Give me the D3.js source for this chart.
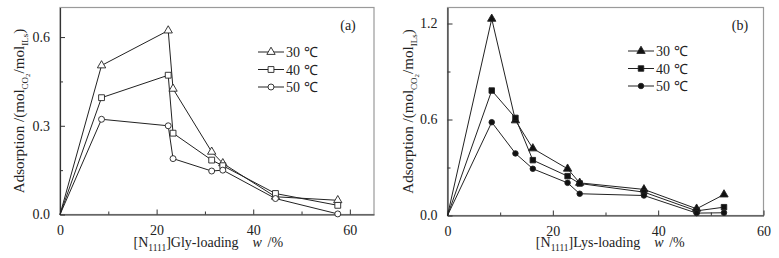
<!DOCTYPE html>
<html>
<head>
<meta charset="utf-8">
<script src="https://cdn.jsdelivr.net/npm/d3@7/dist/d3.min.js"></script>
<style>
  body { margin: 0; background: #fff; }
</style>
</head>
<body>
<div id="chart-area"></div>
<script>
// panel (a) : [N1111]Gly loading
var glyX = [0, 8.6, 22.4, 23.4, 31.4, 33.7, 44.6, 57.5];
var gly30 = [0, 0.504, 0.622, 0.425, 0.212, 0.173, 0.060, 0.048];
var gly40 = [0, 0.395, 0.471, 0.275, 0.184, 0.165, 0.071, 0.031];
var gly50 = [0, 0.322, 0.300, 0.189, 0.147, 0.150, 0.054, 0.002];

// panel (b) : [N1111]Lys loading
var lysX = [0, 8.4, 12.9, 16.2, 22.8, 25.1, 37.3, 47.3, 52.5];
var lys30 = [0, 1.229, 0.594, 0.419, 0.292, 0.204, 0.163, 0.042, 0.131];
var lys40 = [0, 0.781, 0.610, 0.346, 0.246, 0.200, 0.146, 0.029, 0.052];
var lys50 = [0, 0.583, 0.388, 0.292, 0.204, 0.136, 0.125, 0.015, 0.017];

var seriesNames = ["30 \u2103", "40 \u2103", "50 \u2103"];
var glyXTicks = [0, 20, 40, 60];
var glyYTicks = [0, 0.3, 0.6];
var lysXTicks = [0, 20, 40, 60];
var lysYTicks = [0, 0.6, 1.2];

var FONT = "Liberation Serif";

var svg = d3.select("#chart-area")
  .append("svg")
  .attr("width", 779)
  .attr("height", 258);

function drawPanel(opt) {
  var x = d3.scaleLinear().domain(opt.xDomain).range([opt.left, opt.right]);
  var y = d3.scaleLinear().domain(opt.yDomain).range([opt.bottom, opt.top]);
  var g = svg.append("g");

  // frame
  g.append("rect")
    .attr("x", opt.left).attr("y", opt.top)
    .attr("width", opt.right - opt.left).attr("height", opt.bottom - opt.top)
    .attr("fill", "none").attr("stroke", "#9a9a9a").attr("stroke-width", 1.2);

  // axes with inward ticks
  g.append("g")
    .attr("transform", "translate(0," + opt.bottom + ")")
    .call(d3.axisTop(x).tickValues(opt.xMinor).tickSize(3).tickFormat(""))
    .call(function(a) { a.select(".domain").remove(); });
  g.append("g")
    .attr("transform", "translate(0," + opt.bottom + ")")
    .call(d3.axisBottom(x).tickValues(opt.xTicks).tickSizeInner(-5).tickSizeOuter(0).tickPadding(11).tickFormat(d3.format("d")));

  g.append("g")
    .attr("transform", "translate(" + opt.left + ",0)")
    .call(d3.axisRight(y).tickValues(opt.yMinor).tickSize(3).tickFormat(""))
    .call(function(a) { a.select(".domain").remove(); });
  g.append("g")
    .attr("transform", "translate(" + opt.left + ",0)")
    .call(d3.axisLeft(y).tickValues(opt.yTicks).tickSizeInner(-5).tickSizeOuter(0).tickPadding(10).tickFormat(d3.format(".1f")));

  g.selectAll(".tick text").attr("font-family", FONT).attr("font-size", 14).attr("fill", "#222");
  g.selectAll(".domain").attr("stroke", "#333").attr("stroke-width", 1.2);
  g.selectAll(".tick line").attr("stroke", "#333");

  // lines
  var line = d3.line()
    .x(function(d) { return x(d[0]); })
    .y(function(d) { return y(d[1]); });

  opt.series.forEach(function(s, i) {
    var pts = opt.xs.map(function(v, k) { return [v, s[k]]; });
    g.append("path")
      .datum(pts)
      .attr("fill", "none")
      .attr("stroke", "#222")
      .attr("stroke-width", 1)
      .attr("d", line);
  });

  opt.series.forEach(function(s, i) {
    var pts = opt.xs.map(function(v, k) { return [v, s[k]]; }).slice(1);
    g.selectAll(".m" + i)
      .data(pts)
      .enter()
      .append("path")
      .attr("transform", function(d) { return "translate(" + x(d[0]) + "," + y(d[1]) + ")"; })
      .attr("d", d3.symbol().type(opt.symbols[i]).size(opt.symbolSize[i]))
      .attr("fill", opt.filled ? "#111" : "#fff")
      .attr("stroke", "#222")
      .attr("stroke-width", 0.9);
  });

  // legend
  var legend = g.append("g");
  seriesNames.forEach(function(n, i) {
    var ly = opt.legY + i * 17.5;
    legend.append("line")
      .attr("x1", opt.legX).attr("x2", opt.legX + 26)
      .attr("y1", ly).attr("y2", ly)
      .attr("stroke", "#222");
    legend.append("path")
      .attr("transform", "translate(" + (opt.legX + 13) + "," + ly + ")")
      .attr("d", d3.symbol().type(opt.symbols[i]).size(opt.symbolSize[i]))
      .attr("fill", opt.filled ? "#111" : "#fff")
      .attr("stroke", "#222")
      .attr("stroke-width", 0.9);
    legend.append("text")
      .attr("x", opt.legX + 28)
      .attr("y", ly + 5)
      .attr("font-family", FONT)
      .attr("font-size", 14)
      .attr("fill", "#222")
      .text(n);
  });

  g.append("text")
    .attr("x", opt.tagX).attr("y", 30)
    .attr("font-family", FONT)
    .attr("font-size", 14)
    .attr("fill", "#222")
    .attr("text-anchor", "middle")
    .text(opt.tag);

  // x label: main part, then the "w /%" part
  var xl = g.append("text")
    .attr("x", opt.xLabelX - 20).attr("y", 247)
    .attr("font-family", FONT)
    .attr("font-size", 14)
    .attr("fill", "#222")
    .attr("text-anchor", "middle");
  xl.append("tspan").text("[N");
  xl.append("tspan").attr("font-size", 9.5).attr("dy", 4).text("1111");
  xl.append("tspan").attr("dy", -4).text("]" + opt.xName + "-loading");
  var xlBox = xl.node().getBBox();
  var wx = xlBox.x + xlBox.width + 14;
  g.append("text")
    .attr("x", wx).attr("y", 247)
    .attr("font-family", FONT)
    .attr("font-size", 14)
    .attr("font-style", "italic")
    .attr("fill", "#222")
    .text("w");
  g.append("text")
    .attr("x", wx + 15).attr("y", 247)
    .attr("font-family", FONT)
    .attr("font-size", 14)
    .attr("fill", "#222")
    .text("/%");

  // y label
  var yl = g.append("text")
    .attr("transform", "translate(" + opt.yLabelX + "," + ((opt.top + opt.bottom) / 2) + ") rotate(-90)")
    .attr("font-family", FONT)
    .attr("font-size", 15)
    .attr("fill", "#222")
    .attr("text-anchor", "middle");
  yl.append("tspan").text("Adsorption /(mol");
  yl.append("tspan").attr("font-size", 9).attr("dy", 4).text("CO");
  yl.append("tspan").attr("font-size", 7).attr("dy", 2).text("2");
  yl.append("tspan").attr("dy", -6).text("/mol");
  yl.append("tspan").attr("font-size", 9).attr("dy", 4).text("ILs");
  yl.append("tspan").attr("dy", -4).text(")");
}

drawPanel({
  left: 60, right: 374, top: 7.5, bottom: 214.5,
  xDomain: [0, 65], yDomain: [0, 0.7],
  xTicks: glyXTicks, xMinor: [10, 30, 50],
  yTicks: glyYTicks, yMinor: [0.15, 0.45],
  xs: glyX, series: [gly30, gly40, gly50],
  symbols: [d3.symbolTriangle, d3.symbolSquare, d3.symbolCircle],
  symbolSize: [30, 34, 28],
  filled: false,
  legX: 258, legY: 52, tag: "(a)", tagX: 348,
  xName: "Gly", xLabelX: 206, yLabelX: 24
});

drawPanel({
  left: 447.5, right: 763.5, top: 7.5, bottom: 215.5,
  xDomain: [0, 60], yDomain: [0, 1.3],
  xTicks: lysXTicks, xMinor: [10, 30, 50],
  yTicks: lysYTicks, yMinor: [0.3, 0.9],
  xs: lysX, series: [lys30, lys40, lys50],
  symbols: [d3.symbolTriangle, d3.symbolSquare, d3.symbolCircle],
  symbolSize: [30, 30, 24],
  filled: true,
  legX: 628, legY: 51, tag: "(b)", tagX: 740,
  xName: "Lys", xLabelX: 608, yLabelX: 413
});
</script>
</body>
</html>
